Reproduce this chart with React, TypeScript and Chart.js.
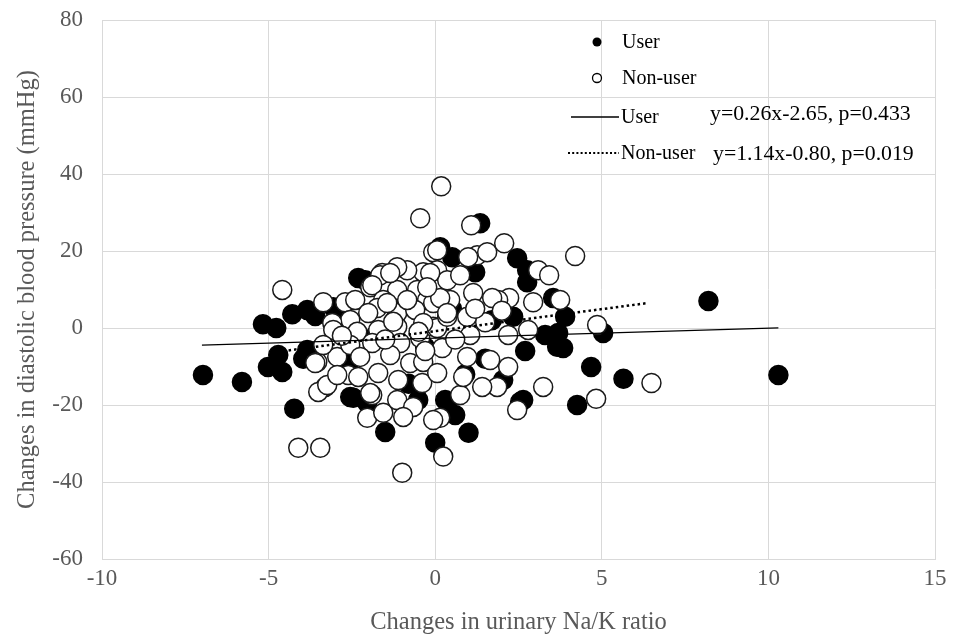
import React, { useEffect, useRef } from "react";
import { Chart, registerables } from "chart.js";

Chart.register(...registerables);

// ---- data ----
const userX = [
  -6.97, -5.8, -5.17, -4.77, -4.29, -5.02, -4.71, -4.59, -4.23, -3.96,
  -3.6, -2.94, -2.31, -2.1, -3.06, -3.84, -3.84, -2.46, -1.5, -2.55,
  -0.51, -2.04, 0.3, 0.6, 0.36, 1.0, 0.0, 2.55, 2.04, 2.64,
  4.26, 3.66, 3.3, 3.69, 3.9, 3.84, 0.15, 1.35, 2.46, 2.76,
  2.76, 1.2, 0.51, 3.54, 2.34, 8.2, 10.3, 5.65, 4.68, 5.04,
  -1.2, 0.5, -0.3, 1.5, -1.8, 0.9, -0.8, 1.7, -2.6, 2.7,
];
const userY = [
  -12.2, -14.0, 1.0, 0.0, 3.6, -10.1, -7.0, -11.4, -21.0, -8.0,
  3.1, 4.1, 13.0, 12.4, 5.4, 4.7, -5.7, -18.1, -27.0, -17.9,
  -18.7, -19.4, -18.7, -22.6, -19.2, -27.2, -29.8, -19.2, -13.5, -18.7,
  -20.0, -4.9, -1.8, -1.3, 2.9, -5.2, 21.0, 27.2, 18.1, 15.0,
  11.9, 14.5, 18.4, 7.8, 2.9, 7.0, -12.2, -13.2, -10.1, -1.3,
  8.0, 5.0, -5.0, -8.0, -2.0, -12.0, -14.5, 2.0, -9.5, -6.0,
];
const nonUserX = [
  -4.59, -3.36, -2.7, -1.95, -1.59, -4.11, -3.45, -3.54, -3.3, -3.51,
  -2.94, -2.61, -2.31, -1.89, -2.04, -1.56, 0.18, -0.45, 1.08, -0.06,
  1.26, 1.56, 2.07, 4.2, 3.09, 3.42, 3.75, 2.94, 2.22, 1.89,
  0.99, 3.24, 2.46, 0.24, -0.99, 0.15, 0.75, 1.86, 1.41, 2.19,
  6.49, 4.83, 4.86, -0.36, -0.84, -1.14, -1.65, -1.89, -1.14, -0.54,
  -0.24, -0.81, -1.56, -1.74, -2.4, -2.01, -1.14, -0.6, -0.06, -2.55,
  -3.09, -3.06, -2.34, -1.71, -1.14, -0.45, -0.06, -3.36, -2.55, -1.89,
  -1.05, -3.6, -2.25, -1.35, -0.75, -0.36, -3.24, -2.94, -1.71, -1.11,
  -0.39, -1.95, -1.14, -0.66, -0.96, -0.06, 0.06, 1.05, 2.19, 2.79,
  0.21, 0.96, 1.65, 0.06, 0.84, 0.06, 0.06, 0.36, 1.14, 0.45,
  0.15, 1.71, 0.36, 0.96, 0.75, -1.35, -0.15, -0.24, -1.44, -0.84,
  -0.36, 0.36, -1.26, 1.5, -0.5, 0.6, -1.5, 1.2, -2.8, 2.0, -0.3,
];
const nonUserY = [
  9.9, 6.7, 6.7, 10.6, 14.3, -31.1, -31.1, -8.8, -15.3, -16.6,
  -7.5, -12.2, -12.7, -17.4, -23.3, -22.0, 36.8, 28.5, 26.7, 19.7,
  18.9, 19.7, 22.0, 18.7, 15.0, 13.7, 7.3, 6.7, 7.8, 7.3,
  18.4, -15.3, -21.3, -33.4, -37.6, -23.3, -17.4, -15.3, -15.3, -10.1,
  -14.3, -18.4, 0.8, 14.5, 15.0, 15.8, 13.7, 11.1, 9.9, 9.9,
  7.3, 6.7, 7.3, 5.2, 7.3, 3.9, 3.9, 4.7, 6.5, 2.1,
  1.3, -0.5, -1.0, -0.5, 0.3, -2.6, 0.3, -4.4, -4.4, -3.9,
  -3.9, -9.1, -7.5, -7.0, -9.1, -8.8, -14.8, -12.2, -11.7, -13.5,
  -14.3, -16.9, -18.7, -20.5, -23.1, -23.9, 0.0, -1.8, -1.8, -0.5,
  -5.2, -7.5, -8.3, -11.7, -12.7, 20.2, 15.0, 12.4, 9.1, 7.3,
  7.8, 7.8, 2.9, 2.9, 13.7, 14.3, 14.3, 10.6, 6.5, 7.3,
  1.3, 3.9, 1.6, 1.5, -1.0, -3.0, -3.0, 5.0, -2.0, 4.5, -6.0,
];
// regression lines as drawn (end points)
const userFitX = [-7.0, 10.3];
const userFitY = [-4.47, 0.03];
const nonUserFitX = [-4.4, 6.4];
const nonUserFitY = [-5.82, 6.5];

const seriesNames = ["User", "Non-user"];
const fitTexts = ["y=0.26x-2.65, p=0.433", "y=1.14x-0.80, p=0.019"];
const xTitle = "Changes in urinary Na/K ratio";
const yTitle = "Changes in diastolic blood pressure (mmHg)";

const toPoints = (xs: number[], ys: number[]) => xs.map((x, i) => ({ x, y: ys[i] }));

const FONT = "'Liberation Serif', 'Times New Roman', serif";

const legendPlugin = {
  id: "customLegend",
  afterDraw(chart: any) {
    const ctx = chart.ctx;
    ctx.save();
    ctx.font = `20px ${FONT}`;
    ctx.textBaseline = "middle";
    ctx.textAlign = "left";
    ctx.fillStyle = "#000";
    ctx.strokeStyle = "#000";
    // User marker
    ctx.beginPath();
    ctx.arc(597, 42, 4.5, 0, Math.PI * 2);
    ctx.fill();
    ctx.fillText(seriesNames[0], 622, 43);
    // Non-user marker
    ctx.beginPath();
    ctx.lineWidth = 1.3;
    ctx.arc(597, 78, 4.5, 0, Math.PI * 2);
    ctx.fillStyle = "#fff";
    ctx.fill();
    ctx.stroke();
    ctx.fillStyle = "#000";
    ctx.fillText(seriesNames[1], 622, 79);
    // User line
    ctx.beginPath();
    ctx.lineWidth = 1.3;
    ctx.moveTo(571, 117);
    ctx.lineTo(619, 117);
    ctx.stroke();
    ctx.fillText(seriesNames[0], 621, 118);
    // Non-user dotted line
    ctx.beginPath();
    ctx.lineWidth = 2;
    ctx.setLineDash([2, 2.2]);
    ctx.moveTo(568, 153);
    ctx.lineTo(619, 153);
    ctx.stroke();
    ctx.setLineDash([]);
    ctx.fillText(seriesNames[1], 621, 154);
    ctx.font = `21.8px ${FONT}`;
    ctx.fillText(fitTexts[0], 710, 114);
    ctx.fillText(fitTexts[1], 713, 154);
    ctx.restore();
  },
};

export default function App() {
  const ref = useRef<HTMLCanvasElement | null>(null);

  useEffect(() => {
    if (!ref.current) return;
    const grid = { color: "#d9d9d9", lineWidth: 1, drawTicks: false };
    const chart = new Chart(ref.current, {
      type: "scatter",
      data: {
        datasets: [
          {
            type: "line",
            label: "User fit",
            data: toPoints(userFitX, userFitY),
            borderColor: "#000",
            borderWidth: 1.3,
            pointRadius: 0,
            fill: false,
            order: 0,
          } as any,
          {
            type: "line",
            label: "Non-user fit",
            data: toPoints(nonUserFitX, nonUserFitY),
            borderColor: "#000",
            borderWidth: 2.5,
            borderDash: [2.5, 3],
            pointRadius: 0,
            fill: false,
            order: 1,
          } as any,
          {
            label: seriesNames[1],
            data: toPoints(nonUserX, nonUserY),
            backgroundColor: "#fff",
            borderColor: "#1a1a1a",
            borderWidth: 1.5,
            pointRadius: 9.5,
            order: 2,
          },
          {
            label: seriesNames[0],
            data: toPoints(userX, userY),
            backgroundColor: "#000",
            borderColor: "#000",
            borderWidth: 1.5,
            pointRadius: 9.5,
            order: 3,
          },
        ],
      },
      options: {
        animation: false,
        responsive: false,
        devicePixelRatio: 1,
        layout: { padding: { top: 20, right: 19, left: 0, bottom: 0 } },
        plugins: { legend: { display: false }, tooltip: { enabled: false } },
        scales: {
          x: {
            type: "linear",
            min: -10,
            max: 15,
            grid,
            border: { display: true, color: "#d9d9d9" },
            ticks: {
              stepSize: 5,
              padding: 6,
              color: "#595959",
              font: { family: FONT, size: 23 },
            },
            title: {
              display: true,
              text: xTitle,
              color: "#595959",
              font: { family: FONT, size: 24.5 },
              padding: { top: 0, bottom: 2 },
            },
            afterFit(scale: any) {
              scale.height = 80;
              scale.paddingLeft = 0;
              scale.paddingRight = 0;
            },
          },
          y: {
            type: "linear",
            min: -60,
            max: 80,
            grid,
            border: { display: true, color: "#d9d9d9" },
            ticks: {
              stepSize: 20,
              padding: 19,
              color: "#595959",
              font: { family: FONT, size: 23 },
            },
            title: {
              display: true,
              text: yTitle,
              color: "#595959",
              font: { family: FONT, size: 24.5 },
              padding: { top: 13, bottom: 0 },
            },
            afterFit(scale: any) {
              scale.width = 102;
              scale.paddingTop = 0;
              scale.paddingBottom = 0;
            },
          },
        },
      },
      plugins: [legendPlugin],
    });
    return () => chart.destroy();
  }, []);

  return (
    <div style={{ position: "absolute", left: 0, top: 0, width: 954, height: 639, background: "#fff" }}>
      <canvas ref={ref} width={954} height={639} style={{ width: 954, height: 639 }} />
    </div>
  );
}
